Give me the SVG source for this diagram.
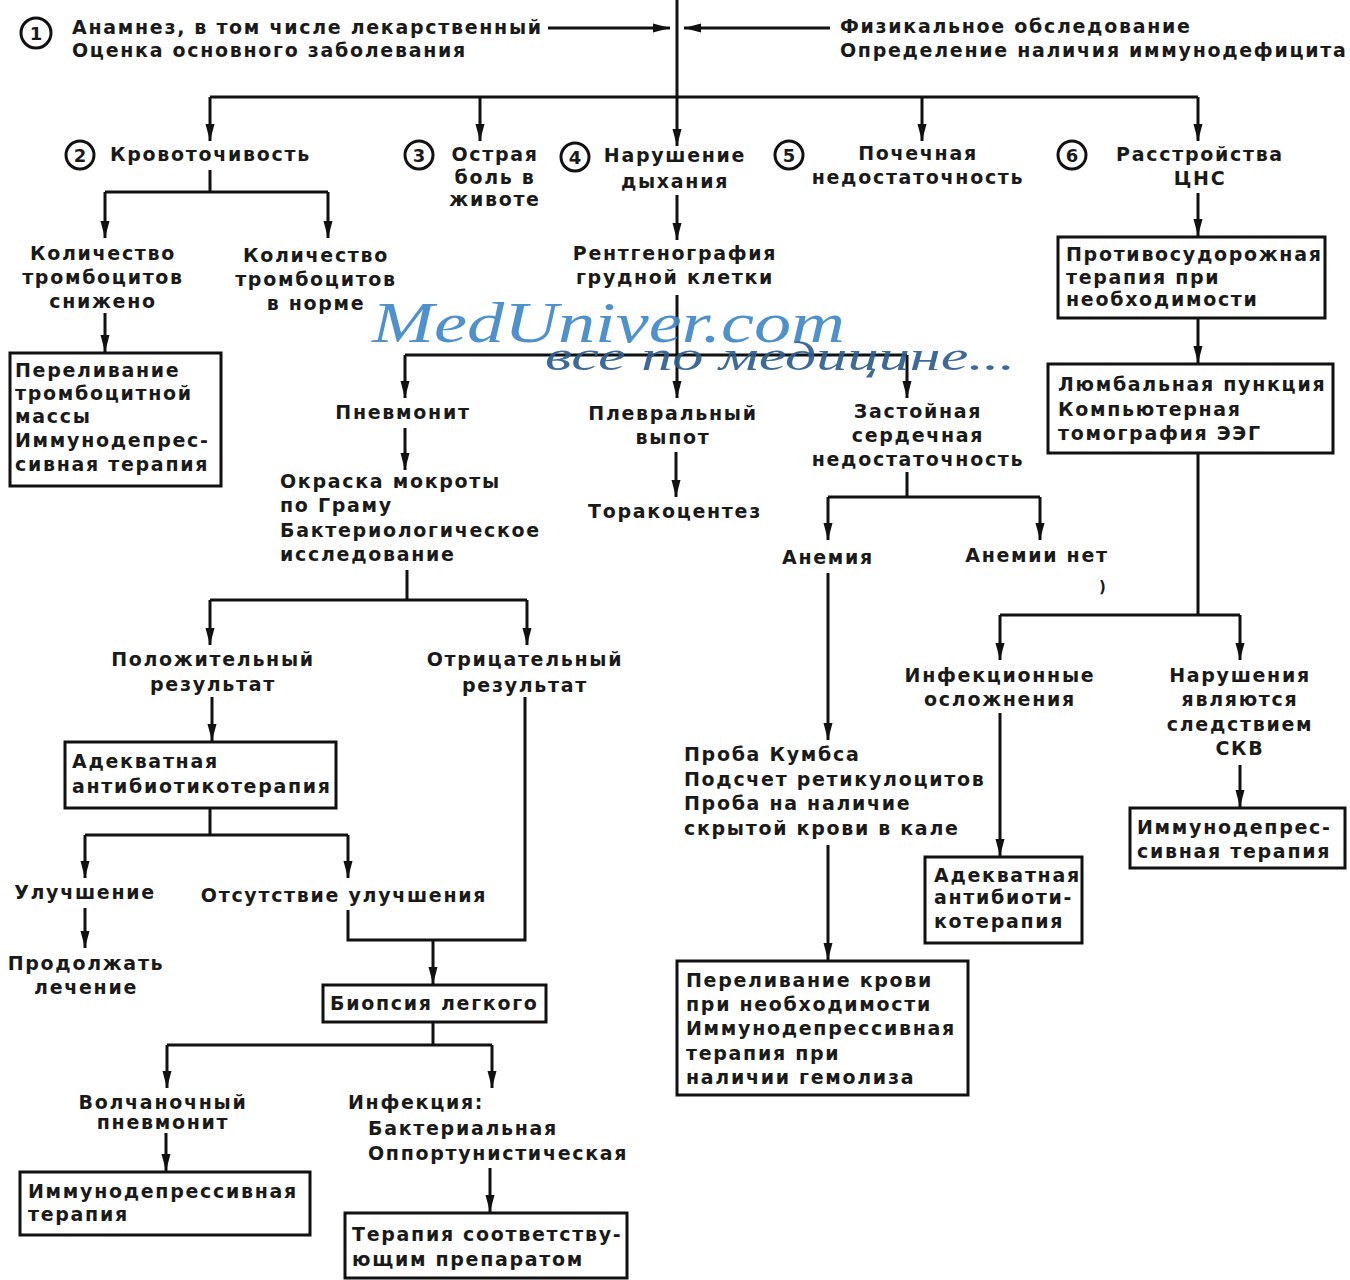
<svg xmlns="http://www.w3.org/2000/svg" width="1350" height="1280" viewBox="0 0 1350 1280">
<defs>
<marker id="ar" markerUnits="userSpaceOnUse" markerWidth="18" markerHeight="10" refX="17" refY="5" orient="auto">
<path d="M0,0.5 L17,5 L0,9.5 Z" fill="#111"/>
</marker>
<style>
.t{font-family:"DejaVu Sans","Liberation Sans",sans-serif;font-size:19px;font-weight:bold;letter-spacing:1.7px;fill:#1a1a1a}
.c{text-anchor:middle}
.n{font-family:"DejaVu Sans","Liberation Sans",sans-serif;font-size:18px;font-weight:bold;fill:#1a1a1a;text-anchor:middle}
.ci{fill:#fff;stroke:#111;stroke-width:3}
.b{fill:#fff;stroke:#111;stroke-width:3}
.l{fill:none;stroke:#111;stroke-width:3}
.a{fill:none;stroke:#111;stroke-width:3;marker-end:url(#ar)}
</style>
</defs>
<rect width="1350" height="1280" fill="#fff"/>

<g id="connectors">
<path class="a" d="M677,0 V146"/>
<path class="a" d="M548,28 H670"/>
<path class="a" d="M830,28 H684"/>
<path class="l" d="M210,97 H1198"/>
<path class="a" d="M210,97 V141"/>
<path class="a" d="M480,97 V141"/>
<path class="a" d="M922,97 V141"/>
<path class="a" d="M1198,97 V141"/>
<path class="l" d="M210,170 V192 M105,192 H328"/>
<path class="a" d="M105,192 V238"/>
<path class="a" d="M328,192 V238"/>
<path class="a" d="M105,313 V352"/>
<path class="a" d="M677,195 V240"/>
<path class="a" d="M677,295 V398"/>
<path class="l" d="M405,355 H907"/>
<path class="a" d="M405,355 V398"/>
<path class="a" d="M907,355 V398"/>
<path class="a" d="M405,428 V470"/>
<path class="l" d="M407,570 V600 M210,600 H527"/>
<path class="a" d="M210,600 V645"/>
<path class="a" d="M527,600 V645"/>
<path class="a" d="M212,697 V741"/>
<path class="l" d="M210,808 V835 M85,835 H348"/>
<path class="a" d="M85,835 V878"/>
<path class="a" d="M348,835 V878"/>
<path class="a" d="M85,908 V948"/>
<path class="l" d="M348,910 V940 H525 V697"/>
<path class="a" d="M433,940 V984"/>
<path class="l" d="M433,1022 V1045 M167,1045 H492"/>
<path class="a" d="M167,1045 V1088"/>
<path class="a" d="M492,1045 V1088"/>
<path class="a" d="M166,1133 V1171"/>
<path class="a" d="M490,1168 V1212"/>
<path class="a" d="M676,452 V497"/>
<path class="l" d="M907,472 V497 M828,497 H1040"/>
<path class="a" d="M828,497 V540"/>
<path class="a" d="M1040,497 V540"/>
<path class="a" d="M828,573 V740"/>
<path class="a" d="M828,845 V960"/>
<path class="a" d="M1198,193 V236"/>
<path class="a" d="M1198,318 V363"/>
<path class="l" d="M1198,453 V615 M1000,615 H1240"/>
<path class="a" d="M1000,615 V660"/>
<path class="a" d="M1240,615 V660"/>
<path class="a" d="M1000,713 V856"/>
<path class="a" d="M1240,765 V807"/>
</g>

<g id="n1">
<circle class="ci" cx="36" cy="33" r="15"/><text class="n" x="36" y="40">1</text>
<text class="t" x="72" y="34">Анамнез, в том числе лекарственный</text>
<text class="t" x="72" y="57">Оценка основного заболевания</text>
</g>
<g id="n1r">
<text class="t" x="840" y="33">Физикальное обследование</text>
<text class="t" x="840" y="57">Определение наличия иммунодефицита</text>
</g>
<g id="n2">
<circle class="ci" cx="80" cy="155" r="14"/><text class="n" x="80" y="162">2</text>
<text class="t" x="110" y="161">Кровоточивость</text>
</g>
<g id="n3">
<circle class="ci" cx="419" cy="155" r="14"/><text class="n" x="419" y="162">3</text>
<text class="t c" x="495" y="161">Острая</text>
<text class="t c" x="495" y="184">боль в</text>
<text class="t c" x="495" y="206">животе</text>
</g>
<g id="n4">
<circle class="ci" cx="575" cy="157" r="14"/><text class="n" x="575" y="164">4</text>
<text class="t c" x="675" y="162">Нарушение</text>
<text class="t c" x="675" y="188">дыхания</text>
</g>
<g id="n5">
<circle class="ci" cx="789" cy="155" r="14"/><text class="n" x="789" y="162">5</text>
<text class="t c" x="918" y="160">Почечная</text>
<text class="t c" x="918" y="184">недостаточность</text>
</g>
<g id="n6">
<circle class="ci" cx="1072" cy="155" r="14"/><text class="n" x="1072" y="162">6</text>
<text class="t c" x="1200" y="161">Расстройства</text>
<text class="t c" x="1200" y="185">ЦНС</text>
</g>
<g id="plt-low">
<text class="t c" x="103" y="260">Количество</text>
<text class="t c" x="103" y="284">тромбоцитов</text>
<text class="t c" x="103" y="308">снижено</text>
</g>
<g id="plt-norm">
<text class="t c" x="316" y="262">Количество</text>
<text class="t c" x="316" y="286">тромбоцитов</text>
<text class="t c" x="316" y="310">в норме</text>
</g>
<g id="box-plt">
<rect class="b" x="10" y="353" width="211" height="133"/>
<text class="t" x="15" y="377">Переливание</text>
<text class="t" x="15" y="400">тромбоцитной</text>
<text class="t" x="15" y="423">массы</text>
<text class="t" x="15" y="447">Иммунодепрес-</text>
<text class="t" x="15" y="471">сивная терапия</text>
</g>
<g id="xray">
<text class="t c" x="675" y="260">Рентгенография</text>
<text class="t c" x="675" y="284">грудной клетки</text>
</g>
<g id="pneumonitis">
<text class="t c" x="403" y="419">Пневмонит</text>
</g>
<g id="sputum">
<text class="t" x="280" y="488">Окраска мокроты</text>
<text class="t" x="280" y="512">по Граму</text>
<text class="t" x="280" y="537">Бактериологическое</text>
<text class="t" x="280" y="561">исследование</text>
</g>
<g id="pos">
<text class="t c" x="213" y="666">Положительный</text>
<text class="t c" x="213" y="691">результат</text>
</g>
<g id="neg">
<text class="t c" x="525" y="666">Отрицательный</text>
<text class="t c" x="525" y="692">результат</text>
</g>
<g id="box-abx">
<rect class="b" x="65" y="742" width="271" height="66"/>
<text class="t" x="72" y="768">Адекватная</text>
<text class="t" x="72" y="793">антибиотикотерапия</text>
</g>
<g id="improve"><text class="t c" x="85" y="899">Улучшение</text></g>
<g id="noimprove"><text class="t c" x="344" y="902">Отсутствие улучшения</text></g>
<g id="continue">
<text class="t c" x="86" y="970">Продолжать</text>
<text class="t c" x="86" y="994">лечение</text>
</g>
<g id="box-biopsy">
<rect class="b" x="323" y="985" width="223" height="37"/>
<text class="t" x="330" y="1010">Биопсия легкого</text>
</g>
<g id="lupus">
<text class="t c" x="163" y="1109">Волчаночный</text>
<text class="t c" x="163" y="1129">пневмонит</text>
</g>
<g id="box-immuno">
<rect class="b" x="20" y="1172" width="290" height="63"/>
<text class="t" x="28" y="1198">Иммунодепрессивная</text>
<text class="t" x="28" y="1221">терапия</text>
</g>
<g id="infection">
<text class="t" x="348" y="1109">Инфекция:</text>
<text class="t" x="368" y="1135">Бактериальная</text>
<text class="t" x="368" y="1160">Оппортунистическая</text>
</g>
<g id="box-therapy">
<rect class="b" x="345" y="1213" width="282" height="65"/>
<text class="t" x="352" y="1241">Терапия соответству-</text>
<text class="t" x="352" y="1266">ющим препаратом</text>
</g>
<g id="pleural">
<text class="t c" x="673" y="420">Плевральный</text>
<text class="t c" x="673" y="444">выпот</text>
</g>
<g id="thoraco"><text class="t c" x="675" y="518">Торакоцентез</text></g>
<g id="chf">
<text class="t c" x="918" y="418">Застойная</text>
<text class="t c" x="918" y="442">сердечная</text>
<text class="t c" x="918" y="466">недостаточность</text>
</g>
<g id="anemia"><text class="t c" x="828" y="564">Анемия</text></g>
<g id="noanemia">
<text class="t c" x="1037" y="562">Анемии нет</text>
<text class="t" x="1099" y="592" style="font-size:15px">)</text>
</g>
<g id="coombs">
<text class="t" x="684" y="761">Проба Кумбса</text>
<text class="t" x="684" y="786">Подсчет ретикулоцитов</text>
<text class="t" x="684" y="810">Проба на наличие</text>
<text class="t" x="684" y="835">скрытой крови в кале</text>
</g>
<g id="box-blood">
<rect class="b" x="677" y="961" width="291" height="134"/>
<text class="t" x="686" y="987">Переливание крови</text>
<text class="t" x="686" y="1011">при необходимости</text>
<text class="t" x="686" y="1035">Иммунодепрессивная</text>
<text class="t" x="686" y="1060">терапия  при</text>
<text class="t" x="686" y="1084">наличии гемолиза</text>
</g>
<g id="box-anticonv">
<rect class="b" x="1058" y="237" width="267" height="81"/>
<text class="t" x="1066" y="261">Противосудорожная</text>
<text class="t" x="1066" y="284">терапия при</text>
<text class="t" x="1066" y="306">необходимости</text>
</g>
<g id="box-lumbar">
<rect class="b" x="1048" y="364" width="285" height="89"/>
<text class="t" x="1058" y="391">Люмбальная пункция</text>
<text class="t" x="1058" y="416">Компьютерная</text>
<text class="t" x="1058" y="440">томография ЭЭГ</text>
</g>
<g id="infcomp">
<text class="t c" x="1000" y="682">Инфекционные</text>
<text class="t c" x="1000" y="706">осложнения</text>
</g>
<g id="sle">
<text class="t c" x="1240" y="682">Нарушения</text>
<text class="t c" x="1240" y="706">являются</text>
<text class="t c" x="1240" y="731">следствием</text>
<text class="t c" x="1240" y="755">СКВ</text>
</g>
<g id="box-abx2">
<rect class="b" x="925" y="857" width="157" height="86"/>
<text class="t" x="934" y="882">Адекватная</text>
<text class="t" x="934" y="904">антибиоти-</text>
<text class="t" x="934" y="928">котерапия</text>
</g>
<g id="box-immuno2">
<rect class="b" x="1130" y="808" width="215" height="60"/>
<text class="t" x="1137" y="834">Иммунодепрес-</text>
<text class="t" x="1137" y="858">сивная терапия</text>
</g>

<g id="watermark" font-family="'Liberation Serif','DejaVu Serif',serif" font-style="italic">
<text x="372" y="342" font-size="58" fill="#3f88c8" fill-opacity="0.92" textLength="473" lengthAdjust="spacingAndGlyphs">MedUniver.com</text>
<text x="545" y="370" font-size="40" fill="#2c5d8e" fill-opacity="0.92" textLength="470" lengthAdjust="spacingAndGlyphs">все по медицине...</text>
</g>
</svg>
